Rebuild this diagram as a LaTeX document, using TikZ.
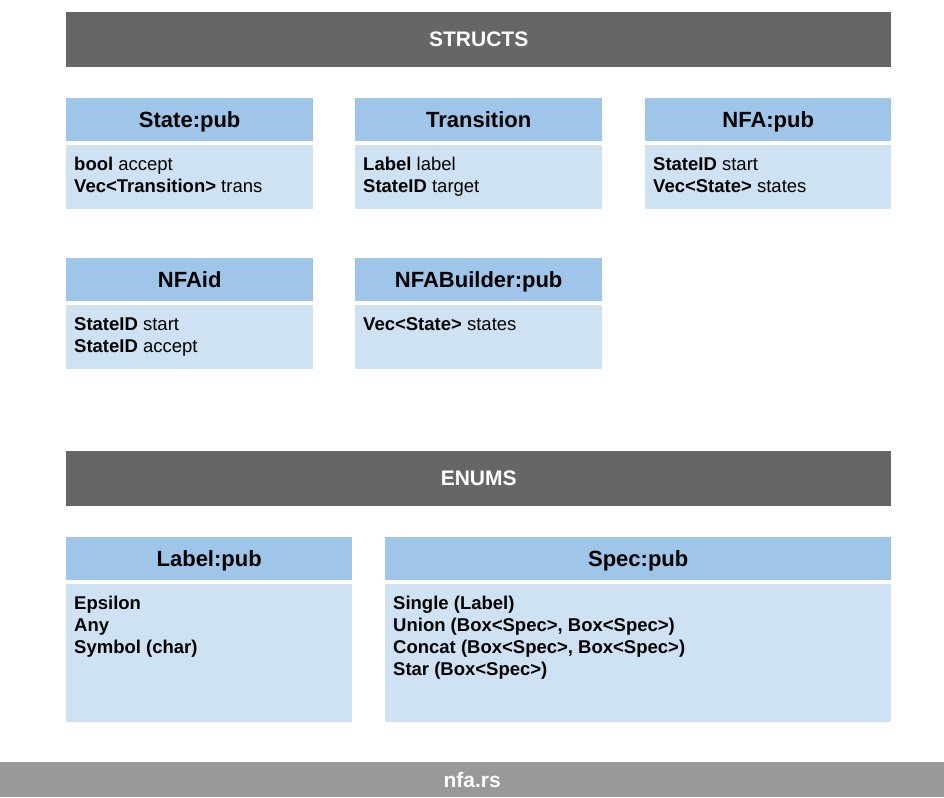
\documentclass[tikz,border=0pt]{standalone}
\usepackage{fontspec}
\setmainfont{Liberation Sans}
\usetikzlibrary{positioning}
\definecolor{bannergray}{HTML}{666666}
\definecolor{footgray}{HTML}{999999}
\definecolor{headblue}{HTML}{9FC5E8}
\definecolor{bodyblue}{HTML}{CFE2F3}
\tikzset{
  banner/.style={fill=bannergray, text=white, anchor=north west, inner sep=0,
    minimum width=825, minimum height=55, font=\fontsize{21}{25}\selectfont\bfseries},
  head/.style={fill=headblue, anchor=north west, inner sep=0, minimum height=43,
    text height=16, text depth=0, font=\fontsize{22}{26}\selectfont\bfseries},
  body/.style={fill=bodyblue, anchor=north west, inner sep=0},
  member/.style={inner sep=0, align=left, font=\fontsize{18.5}{22.2}\selectfont},
}
\begin{document}
\begin{tikzpicture}[x=1pt, y=-1pt]
\useasboundingbox (0,0) rectangle (944,797);
% structs
\node[banner] (structs) at (66,12) {STRUCTS};
\node[head, minimum width=247] (state) at (66,98) {State:pub};
\node[body, minimum width=247, minimum height=64] (statebody) at (66,145) {};
\node[member, below right=12pt and 8pt of statebody.north west]
  {\textbf{bool} accept\\\textbf{Vec<Transition>} trans};
\node[head, minimum width=247] (trans) at (355,98) {Transition};
\node[body, minimum width=247, minimum height=64] (transbody) at (355,145) {};
\node[member, below right=12pt and 8pt of transbody.north west]
  {\textbf{Label} label\\\textbf{StateID} target};
\node[head, minimum width=246] (nfa) at (645,98) {NFA:pub};
\node[body, minimum width=246, minimum height=64] (nfabody) at (645,145) {};
\node[member, below right=12pt and 8pt of nfabody.north west]
  {\textbf{StateID} start\\\textbf{Vec<State>} states};
\node[head, minimum width=247] (nfaid) at (66,258) {NFAid};
\node[body, minimum width=247, minimum height=64] (nfaidbody) at (66,305) {};
\node[member, below right=12pt and 8pt of nfaidbody.north west]
  {\textbf{StateID} start\\\textbf{StateID} accept};
\node[head, minimum width=247] (builder) at (355,258) {NFABuilder:pub};
\node[body, minimum width=247, minimum height=64] (builderbody) at (355,305) {};
\node[member, below right=12pt and 8pt of builderbody.north west]
  {\textbf{Vec<State>} states};
% enums
\node[banner] (enums) at (66,451) {ENUMS};
\node[head, minimum width=286] (label) at (66,537) {Label:pub};
\node[body, minimum width=286, minimum height=138] (labelbody) at (66,584) {};
\node[member, below right=11.5pt and 8pt of labelbody.north west, font=\fontsize{18.5}{22.2}\selectfont\bfseries]
  {Epsilon\\Any\\Symbol (char)};
\node[head, minimum width=506] (spec) at (385,537) {Spec:pub};
\node[body, minimum width=506, minimum height=138] (specbody) at (385,584) {};
\node[member, below right=11.5pt and 8pt of specbody.north west, font=\fontsize{18.5}{22.2}\selectfont\bfseries]
  {Single (Label)\\Union (Box<Spec>, Box<Spec>)\\Concat (Box<Spec>, Box<Spec>)\\Star (Box<Spec>)};
% file
\node[banner, fill=footgray, minimum width=944, minimum height=35] (file) at (0,762) {nfa.rs};
\end{tikzpicture}
\end{document}
